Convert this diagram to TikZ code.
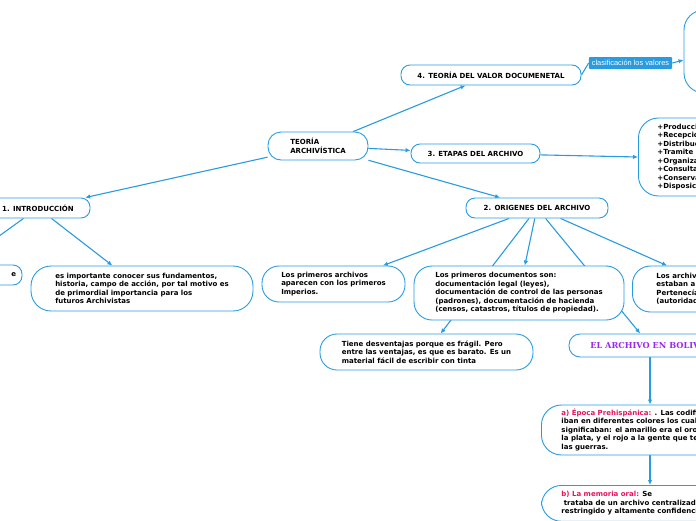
\documentclass[tikz,border=0pt]{standalone}
\usepackage{fontspec}
\setmainfont{DejaVu Sans}
\newfontfamily\lbfont{Liberation Sans}
\newfontfamily\slabfont{DejaVu Serif}
\usetikzlibrary{arrows.meta,backgrounds,calc}
\definecolor{mblue}{RGB}{40,155,225}
\definecolor{mpink}{RGB}{230,20,95}
\definecolor{mpurple}{RGB}{155,40,240}
\begin{document}
\begin{tikzpicture}[x=1pt,y=-1pt,
 box/.style={draw=mblue,line width=0.9pt,fill=white,align=left,inner sep=0pt,font=\bfseries\fontsize{7}{8.5}\selectfont},
 pill/.style={box,rounded corners=9pt,minimum height=20pt},
 conn/.style={draw=mblue,line width=1.1pt,-{Latex[length=5pt,width=4.5pt]}},
 plainconn/.style={draw=mblue,line width=1.1pt},
]
\useasboundingbox (0,0) rectangle (696,520);
\clip (0,0) rectangle (696,520);

\node[box,rounded corners=13pt,minimum width=100pt,minimum height=28pt] (teoria) at (318,146) {TEORÍA\\ARCHIVÍSTICA};
\node[pill,minimum width=180pt] (valor) at (491,75) {4. TEORÍA DEL VALOR DOCUMENETAL};
\node[box,rounded corners=20pt,minimum width=152pt,minimum height=83pt] (valbox) at (760,51.5) {};
\node[fill=mblue,text=white,font=\lbfont\fontsize{7.4}{8}\selectfont,inner xsep=3pt,inner ysep=0pt,minimum height=12pt,rounded corners=1pt] (lbl) at (630.5,63) {clasificación los valores};
\node[pill,minimum width=129pt,minimum height=19pt] (etapas) at (475.5,153.5) {3. ETAPAS DEL ARCHIVO};
\node[box,rounded corners=20pt,anchor=west,inner xsep=19pt,minimum height=78pt] (etbox) at (638,157) {+Producción\\+Recepción\\+Distribución\\+Tramite\\+Organización\\+Consulta\\+Conservación\\+Disposición};
\node[pill,minimum width=104pt] (intro) at (38,208) {1. INTRODUCCIÓN};
\node[pill,minimum width=142pt] (origenes) at (537,208) {2. ORIGENES DEL ARCHIVO};
\node[pill,minimum width=154pt,text width=142pt,align=right] (enode) at (-55,275) {e};
\node[box,rounded corners=20pt,minimum width=222pt,minimum height=45pt] (importante) at (142,288.5) {es importante conocer sus fundamentos,\\historia, campo de acción, por tal motivo es\\de primordial importancia para los\\futuros Archivistas};
\node[box,rounded corners=17pt,minimum width=143pt,minimum height=36pt] (parch) at (333.5,284) {Los primeros archivos\\aparecen con los primeros\\Imperios.};
\node[box,rounded corners=18pt,minimum width=210pt,minimum height=54pt] (docs) at (519,293) {Los primeros documentos son:\\documentación legal (leyes),\\documentación de control de las personas\\(padrones), documentación de hacienda\\(censos, catastros, títulos de propiedad).};
\node[box,rounded corners=18pt,anchor=west,inner xsep=24pt,minimum height=46pt] (larch) at (632,289) {Los archivos\\estaban a\\Pertenecía\\(autoridad};
\node[box,rounded corners=17pt,minimum width=213pt,minimum height=36pt] (tiene) at (426.5,352) {Tiene desventajas porque es frágil. Pero\\entre las ventajas, es que es barato. Es un\\material fácil de escribir con tinta};
\node[box,rounded corners=11pt,minimum width=162pt,minimum height=23pt,font=\slabfont\bfseries\fontsize{8.2}{9}\selectfont,text=mpurple] (bolivia) at (650,345.5) {EL ARCHIVO EN BOLIVIA};
\node[box,rounded corners=20pt,anchor=west,inner xsep=20pt,minimum height=50pt] (epoca) at (541,430) {\textcolor{mpink}{a) Época Prehispánica:} . Las codificaciones\\iban en diferentes colores los cuales\\significaban: el amarillo era el oro,\\la plata, y el rojo a la gente que tenía\\las guerras.};
\node[box,rounded corners=20pt,anchor=north west,inner xsep=20pt,inner ysep=6pt] (memoria) at (541,485) {\textcolor{mpink}{b) La memoria oral:} Se\\\mbox{} trataba de un archivo centralizado\\restringido y altamente confidencial};

\begin{pgfonlayer}{background}
\clip (0,0) rectangle (696,520);
\draw[conn] (teoria) -- (valor);
\draw[conn] (teoria) -- (etapas);
\draw[conn] (teoria) -- (intro);
\draw[conn] (teoria) -- (origenes);
\draw[plainconn] (valor.east) -- (lbl.west);
\draw[conn] (lbl.east) -- ([yshift=-8.5pt]valbox.west);
\draw[conn] (etapas) -- (etbox.west);
\draw[conn] (intro) -- (enode);
\draw[conn] (intro) -- (importante);
\draw[conn] (origenes) -- (parch);
\draw[conn] (origenes) -- (docs);
\draw[conn] (origenes) -- (tiene);
\draw[conn] (origenes) -- (bolivia);
\draw[conn] (origenes) -- ([xshift=35pt]larch.north west);
\draw[conn] (bolivia) -- (bolivia |- epoca.north);
\draw[conn] (epoca.south -| bolivia) -- (memoria.north -| bolivia);
\end{pgfonlayer}
\end{tikzpicture}
\end{document}
